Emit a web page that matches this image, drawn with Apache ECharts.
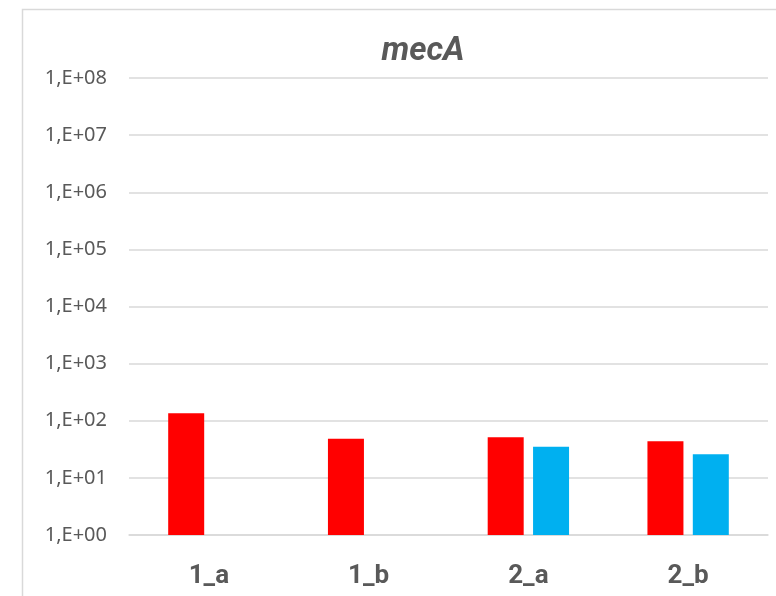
<!DOCTYPE html>
<html>
<head>
<meta charset="utf-8">
<style>
  html, body { margin: 0; padding: 0; background: #ffffff; }
  #chart { width: 776px; height: 596px; }
</style>
<script src="https://cdn.jsdelivr.net/npm/echarts@6/dist/echarts.min.js"></script>
</head>
<body>
<div id="chart"></div>
<script>
// Sample groups on the category axis
const categories = ['1_a', '1_b', '2_a', '2_b'];
// mecA copy numbers per sample (log scale)
const redValues = [135, 48.5, 51.4, 43.8];
const blueValues = [null, null, 35.2, 25.9];
// Powers of ten shown on the value axis
const exponents = [0, 1, 2, 3, 4, 5, 6, 7, 8];

function formatPower(v) {
  const e = Math.round(Math.log10(v));
  if (exponents.indexOf(e) < 0) return '';
  return '1,E+' + (e < 10 ? '0' : '') + e;
}

const chart = echarts.init(document.getElementById('chart'), null, { renderer: 'canvas' });

chart.setOption({
  animation: false,
  backgroundColor: '#ffffff',
  graphic: [{
    type: 'rect',
    silent: true,
    shape: { x: 22.5, y: 9.5, width: 820, height: 700 },
    style: { fill: 'none', stroke: '#d9d9d9', lineWidth: 1.5 }
  }],
  title: {
    text: 'mecA',
    left: 418,
    top: 30,
    textAlign: 'center',
    textStyle: {
      fontFamily: 'Roboto',
      fontStyle: 'italic',
      fontWeight: 'bold',
      fontSize: 33,
      color: '#595959'
    }
  },
  grid: { left: 129, right: 8, top: 78, bottom: 61, containLabel: false },
  xAxis: {
    type: 'category',
    data: categories,
    axisTick: { show: false },
    axisLine: { show: true, lineStyle: { color: '#d9d9d9', width: 1.5 } },
    axisLabel: {
      margin: 28,
      fontFamily: 'Roboto',
      fontWeight: 'bold',
      fontSize: 26,
      color: '#595959'
    }
  },
  yAxis: {
    type: 'log',
    logBase: 10,
    min: 1,
    max: 1e8,
    axisLine: { show: false },
    axisTick: { show: false },
    splitLine: { show: true, lineStyle: { color: '#d9d9d9', width: 1.5 } },
    axisLabel: {
      margin: 22,
      fontFamily: 'Noto Sans',
      fontSize: 20,
      color: '#595959',
      formatter: formatPower
    }
  },
  series: [
    {
      type: 'bar',
      data: redValues,
      barWidth: 36,
      barGap: '26%',
      itemStyle: { color: '#ff0000' }
    },
    {
      type: 'bar',
      data: blueValues,
      barWidth: 36,
      barGap: '26%',
      itemStyle: { color: '#00b0f0' }
    }
  ]
});
</script>
</body>
</html>
